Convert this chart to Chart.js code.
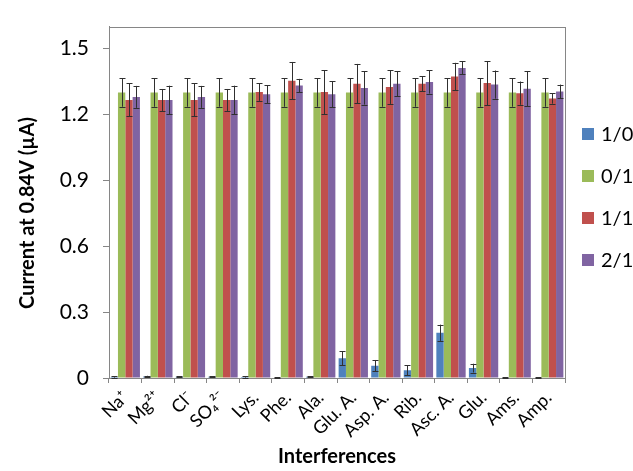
<!DOCTYPE html>
<html>
<head>
<meta charset="utf-8">
<script src="https://cdn.jsdelivr.net/npm/chart.js@4/dist/chart.umd.min.js"></script>
<style>
  html, body { margin: 0; padding: 0; background: #ffffff; }
  #wrap { width: 633px; height: 471px; }
</style>
</head>
<body>
<div id="wrap"><canvas id="c" width="633" height="471"></canvas></div>
<script>
// Interfering species on the x axis
const categories = ['Na⁺', 'Mg²⁺', 'Cl⁻', 'SO₄²⁻', 'Lys.', 'Phe.', 'Ala.', 'Glu. A.', 'Asp. A.', 'Rib.', 'Asc. A.', 'Glu.', 'Ams.', 'Amp.'];

// Series labels (ratios)
const seriesNames = ['1/0', '0/1', '1/1', '2/1'];

// Mean currents (µA) per series
const values10 = [0.005, 0.007, 0.006, 0.006, 0.005, 0.002, 0.006, 0.090, 0.056, 0.035, 0.206, 0.045, 0.002, 0.002];
const values01 = [1.30, 1.30, 1.30, 1.30, 1.30, 1.30, 1.30, 1.30, 1.30, 1.30, 1.30, 1.30, 1.30, 1.30];
const values11 = [1.266, 1.266, 1.266, 1.266, 1.302, 1.354, 1.302, 1.340, 1.325, 1.340, 1.373, 1.343, 1.297, 1.273];
const values21 = [1.280, 1.266, 1.280, 1.266, 1.292, 1.332, 1.292, 1.321, 1.340, 1.348, 1.412, 1.336, 1.317, 1.305];

// Standard deviations (µA) per series
const err10 = [0.003, 0.003, 0.003, 0.003, 0.003, 0.002, 0.003, 0.032, 0.026, 0.022, 0.037, 0.020, 0.002, 0.002];
const err01 = [0.065, 0.065, 0.065, 0.065, 0.065, 0.065, 0.065, 0.065, 0.065, 0.065, 0.065, 0.065, 0.065, 0.065];
const err11 = [0.075, 0.050, 0.075, 0.050, 0.040, 0.085, 0.100, 0.090, 0.077, 0.035, 0.062, 0.100, 0.053, 0.024];
const err21 = [0.050, 0.065, 0.050, 0.065, 0.040, 0.030, 0.060, 0.076, 0.057, 0.053, 0.030, 0.064, 0.080, 0.031];

// Y axis tick values
const yTicks = [0, 0.3, 0.6, 0.9, 1.2, 1.5];

const yTitle = 'Current at 0.84V (µA)';
const xTitle = 'Interferences';

const colors = ['#4F81BD', '#9BBB59', '#C0504D', '#8064A2'];
const seriesValues = [values10, values01, values11, values21];
const seriesErrors = [err10, err01, err11, err21];

const FONT = 'Lato, "Open Sans", "Liberation Sans", sans-serif';
const AXIS_COLOR = '#868686';

// Error bars drawn on top of each bar, positioned through the value scale
const errorBars = {
  id: 'errorBars',
  afterDatasetsDraw(chart) {
    const ctx = chart.ctx;
    const y = chart.scales.y;
    ctx.save();
    ctx.strokeStyle = '#303030';
    ctx.lineWidth = 1;
    chart.data.datasets.forEach((ds, di) => {
      const meta = chart.getDatasetMeta(di);
      meta.data.forEach((bar, i) => {
        const v = ds.data[i];
        const e = ds.errors[i];
        const x = Math.round(bar.x) + 0.5;
        const yTop = y.getPixelForValue(v + e);
        const yBot = y.getPixelForValue(Math.max(0, v - e));
        ctx.beginPath();
        ctx.moveTo(x, yTop);
        ctx.lineTo(x, yBot);
        ctx.moveTo(x - 3, Math.round(yTop) + 0.5);
        ctx.lineTo(x + 3, Math.round(yTop) + 0.5);
        ctx.moveTo(x - 3, Math.round(yBot) + 0.5);
        ctx.lineTo(x + 3, Math.round(yBot) + 0.5);
        ctx.stroke();
      });
    });
    ctx.restore();
  }
};

// Frame around the plot area
const plotFrame = {
  id: 'plotFrame',
  beforeDatasetsDraw(chart) {
    const { ctx, chartArea: a } = chart;
    ctx.save();
    ctx.strokeStyle = AXIS_COLOR;
    ctx.lineWidth = 1;
    ctx.strokeRect(Math.round(a.left) + 0.5, Math.round(a.top) + 0.5,
                   Math.round(a.right - a.left), Math.round(a.bottom - a.top));
    ctx.restore();
  }
};

// Vertical value-axis title, centred on the left margin
const valueAxisTitle = {
  id: 'valueAxisTitle',
  afterDraw(chart) {
    const ctx = chart.ctx;
    ctx.save();
    ctx.translate(28, 213);
    ctx.rotate(-Math.PI / 2);
    ctx.font = 'bold 20px ' + FONT;
    ctx.fillStyle = '#000';
    ctx.textAlign = 'center';
    ctx.textBaseline = 'middle';
    ctx.fillText(yTitle, 0, 0);
    ctx.restore();
  }
};

// Legend to the right of the plot
const sideLegend = {
  id: 'sideLegend',
  afterDraw(chart) {
    const ctx = chart.ctx;
    const x0 = 582, textX = 601;
    const ys = [134, 176, 218, 260];
    ctx.save();
    ctx.font = '20px ' + FONT;
    ctx.textBaseline = 'middle';
    ctx.textAlign = 'left';
    seriesNames.forEach((name, i) => {
      ctx.fillStyle = colors[i];
      ctx.fillRect(x0, ys[i] - 6, 12, 12);
      ctx.fillStyle = '#000';
      ctx.fillText(name, textX, ys[i] + 1);
    });
    ctx.restore();
  }
};

new Chart(document.getElementById('c'), {
  type: 'bar',
  data: {
    labels: categories,
    datasets: seriesNames.map((name, i) => ({
      label: name,
      data: seriesValues[i],
      errors: seriesErrors[i],
      backgroundColor: colors[i],
      borderWidth: 0,
      categoryPercentage: 0.9,
      barPercentage: 1.0
    }))
  },
  options: {
    responsive: false,
    animation: false,
    devicePixelRatio: 1,
    layout: { padding: { left: 0, top: 14, right: 68, bottom: 0 } },
    plugins: {
      legend: { display: false },
      tooltip: { enabled: false }
    },
    scales: {
      x: {
        type: 'category',
        offset: true,
        grid: {
          offset: true,
          drawOnChartArea: false,
          drawTicks: true,
          tickLength: 5,
          color: AXIS_COLOR
        },
        border: { color: AXIS_COLOR },
        ticks: {
          minRotation: 45,
          maxRotation: 45,
          autoSkip: false,
          color: '#000',
          padding: 4,
          font: { family: FONT, size: 18 }
        },
        title: {
          display: true,
          text: xTitle,
          color: '#000',
          font: { family: FONT, size: 20, weight: 'bold' },
          padding: { top: 0, bottom: 2 }
        },
        afterFit(scale) { scale.height = 93; }
      },
      y: {
        min: 0,
        max: 1.6,
        grid: {
          drawOnChartArea: false,
          drawTicks: true,
          tickLength: 6,
          color: AXIS_COLOR
        },
        border: { color: AXIS_COLOR },
        afterBuildTicks(scale) {
          scale.ticks = yTicks.map(v => ({ value: v }));
        },
        ticks: {
          color: '#000',
          padding: 14,
          font: { family: FONT, size: 21 },
          callback: (v) => (v === 0 ? '0' : Number(v).toFixed(1))
        },
        afterFit(scale) { scale.width = 109; }
      }
    }
  },
  plugins: [plotFrame, errorBars, valueAxisTitle, sideLegend]
});
</script>
</body>
</html>
